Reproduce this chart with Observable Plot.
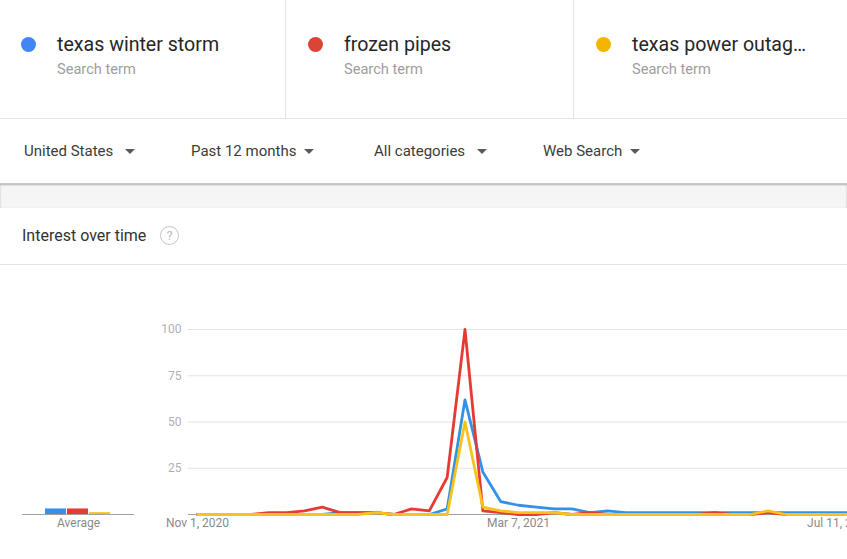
<!DOCTYPE html>
<html><head><meta charset="utf-8">
<script src="https://cdn.jsdelivr.net/npm/d3@7"></script>
<script src="https://cdn.jsdelivr.net/npm/@observablehq/plot@0.6"></script>
<style>
html,body{margin:0;padding:0;width:847px;height:559px;overflow:hidden;background:#fff;font-family:Roboto,"Noto Sans",Arial,sans-serif;}
#page{position:relative;width:847px;height:559px;overflow:hidden;}
.abs{position:absolute;white-space:nowrap;}
.term{font-size:19.6px;color:#262626;line-height:1;}
.sub{font-size:14.6px;color:#9e9e9e;line-height:1;}
.dot{position:absolute;width:15px;height:15px;border-radius:50%;}
.vdiv{position:absolute;top:0;width:1px;height:119px;background:#e4e4e4;}
.filt{font-size:15px;color:#3c3c3c;line-height:1;}
.tri{position:absolute;width:0;height:0;border-left:5px solid transparent;border-right:5px solid transparent;border-top:5px solid #5a5a5a;}
</style></head>
<body><div id="page"></div>
<script>
// ---- data ----
const terms = ["texas winter storm", "frozen pipes", "texas power outag\u2026"];
const dotColors = ["#4285f4", "#db4437", "#f4b400"];
const lineColors = ["#3391e6", "#e53b32", "#f7c21b"];
const weeks = ["2020-11-01","2020-11-08","2020-11-15","2020-11-22","2020-11-29","2020-12-06","2020-12-13","2020-12-20","2020-12-27",
  "2021-01-03","2021-01-10","2021-01-17","2021-01-24","2021-01-31","2021-02-07","2021-02-14","2021-02-21","2021-02-28",
  "2021-03-07","2021-03-14","2021-03-21","2021-03-28","2021-04-04","2021-04-11","2021-04-18","2021-04-25","2021-05-02",
  "2021-05-09","2021-05-16","2021-05-23","2021-05-30","2021-06-06","2021-06-13","2021-06-20","2021-06-27","2021-07-04",
  "2021-07-11","2021-07-18"];
const winterStorm = [0,0,0,0,0,0,0,0,1,1,1,0,0,0,3,62,23,7,5,4,3,3,1,2,1,1,1,1,1,1,1,1,1,1,1,1,1,1];
const frozenPipes = [0,0,0,0,1,1,2,4,1,1,1,0,3,2,20,100,2,1,0,0,1,0,1,0,0,0,0,0,0,1,0,0,1,0,0,0,0,0];
const powerOutage = [0,0,0,0,0,0,0,0,0,0,1,0,0,0,0,50,4,2,1,1,1,0,0,0,0,0,0,0,0,0,0,0,2,0,0,0,0,0];
const averages = [3, 3, 1];
const yTicks = [0, 25, 50, 75, 100];
const xTickLabels = ["2020-11-01", "2021-03-07", "2021-07-11"];
const xDomain = ["2020-10-28T11:17Z", "2021-07-14T03:22Z"];
const subLabel = "Search term";
const filters = ["United States", "Past 12 months", "All categories", "Web Search"];
const sectionTitle = "Interest over time";
const avgLabel = "Average";

// ---- tables ----
const series = [winterStorm, frozenPipes, powerOutage];
const rows = [];
series.forEach((vals, k) => vals.forEach((v, i) => rows.push({term: terms[k], date: new Date(weeks[i]), value: v})));
const avgRows = terms.map((t, k) => ({term: t, value: averages[k]}));

const page = document.getElementById("page");
function el(cls, style, text) {
  const d = document.createElement("div");
  d.className = cls; Object.assign(d.style, style);
  if (text != null) d.textContent = text;
  page.appendChild(d); return d;
}

// header cells
const cellX = [0, 287, 575];
terms.forEach((t, k) => {
  el("dot", {left: (cellX[k] + 21) + "px", top: "37px", background: dotColors[k]});
  el("abs term", {left: (cellX[k] + 57) + "px", top: "35px"}, t);
  el("abs sub", {left: (cellX[k] + 57) + "px", top: "62px"}, subLabel);
});
el("vdiv", {left: "285px"});
el("vdiv", {left: "573px"});
el("abs", {left: "0px", top: "118px", width: "847px", height: "1px", background: "#e4e4e4"});

// filter row
const filtX = [24, 191, 374, 543];
const triX = [125, 304, 477, 630];
filters.forEach((f, k) => {
  el("abs filt", {left: filtX[k] + "px", top: "144px"}, f);
  el("tri", {left: triX[k] + "px", top: "149px"});
});
el("abs", {left: "0px", top: "184px", width: "847px", height: "24px", background: "#f5f5f5", boxShadow: "inset 0 1px 2px rgba(0,0,0,0.28)"});
el("abs", {left: "0px", top: "183px", width: "847px", height: "1px", background: "#c8c8c8"});

// section title
el("abs", {left: "22px", top: "228px", fontSize: "16px", color: "#333", lineHeight: "1"}, sectionTitle);
el("abs", {left: "160px", top: "226px", width: "17px", height: "17px", borderRadius: "50%", border: "1.5px solid #c4c4c4",
  color: "#bdbdbd", fontSize: "13px", lineHeight: "17px", textAlign: "center", boxSizing: "content-box"}, "?");
el("abs", {left: "0px", top: "264px", width: "847px", height: "1px", background: "#e4e4e4"});

// main chart
const main = Plot.plot({
  width: 847, height: 250,
  marginLeft: 188, marginRight: 0, marginTop: 39, marginBottom: 26,
  style: {fontFamily: "Roboto, sans-serif", fontSize: "12px", background: "transparent", overflow: "hidden"},
  x: {type: "utc", domain: xDomain.map(d => new Date(d)), ticks: xTickLabels.map(d => new Date(d)),
      tickFormat: d3.utcFormat("%b %-d, %Y"), tickSize: 0, tickPadding: 4, label: null},
  y: {domain: [0, 100], ticks: yTicks, tickSize: 0, tickPadding: 7, label: null,
      tickFormat: d => d === 0 ? "" : String(d)},
  color: {domain: terms, range: lineColors},
  marks: [
    Plot.ruleY(yTicks.filter(d => d > 0), {stroke: "#e3e3e3", strokeWidth: 1}),
    Plot.ruleY([0], {stroke: "#a0a0a0", strokeWidth: 1}),
    Plot.lineY(rows, {x: "date", y: "value", z: "term", stroke: "term", strokeWidth: 2.8, strokeLinejoin: "round"})
  ]
});
main.style.position = "absolute"; main.style.left = "0px"; main.style.top = "290px";
main.querySelectorAll("g[aria-label='x-axis tick label']").forEach(n => n.setAttribute("fill", "#8a8a8a"));
main.querySelectorAll("g[aria-label='y-axis tick label']").forEach(n => n.setAttribute("fill", "#b0b0b0"));
page.appendChild(main);

// average bars
const avg = Plot.plot({
  width: 112, height: 250,
  marginLeft: 0, marginRight: 0, marginTop: 39, marginBottom: 26,
  style: {background: "transparent"},
  x: {domain: terms, paddingInner: 0.0435, paddingOuter: 0.957, axis: null},
  y: {domain: [0, 100], axis: null},
  color: {domain: terms, range: lineColors},
  marks: [
    Plot.barY(avgRows, {x: "term", y: "value", fill: "term"}),
    Plot.ruleY([0], {stroke: "#a0a0a0", strokeWidth: 1})
  ]
});
avg.style.position = "absolute"; avg.style.left = "22px"; avg.style.top = "290px";
page.appendChild(avg);
el("abs", {left: "57px", top: "517px", fontSize: "12px", color: "#8a8a8a", lineHeight: "1"}, avgLabel);
</script>
</body></html>
